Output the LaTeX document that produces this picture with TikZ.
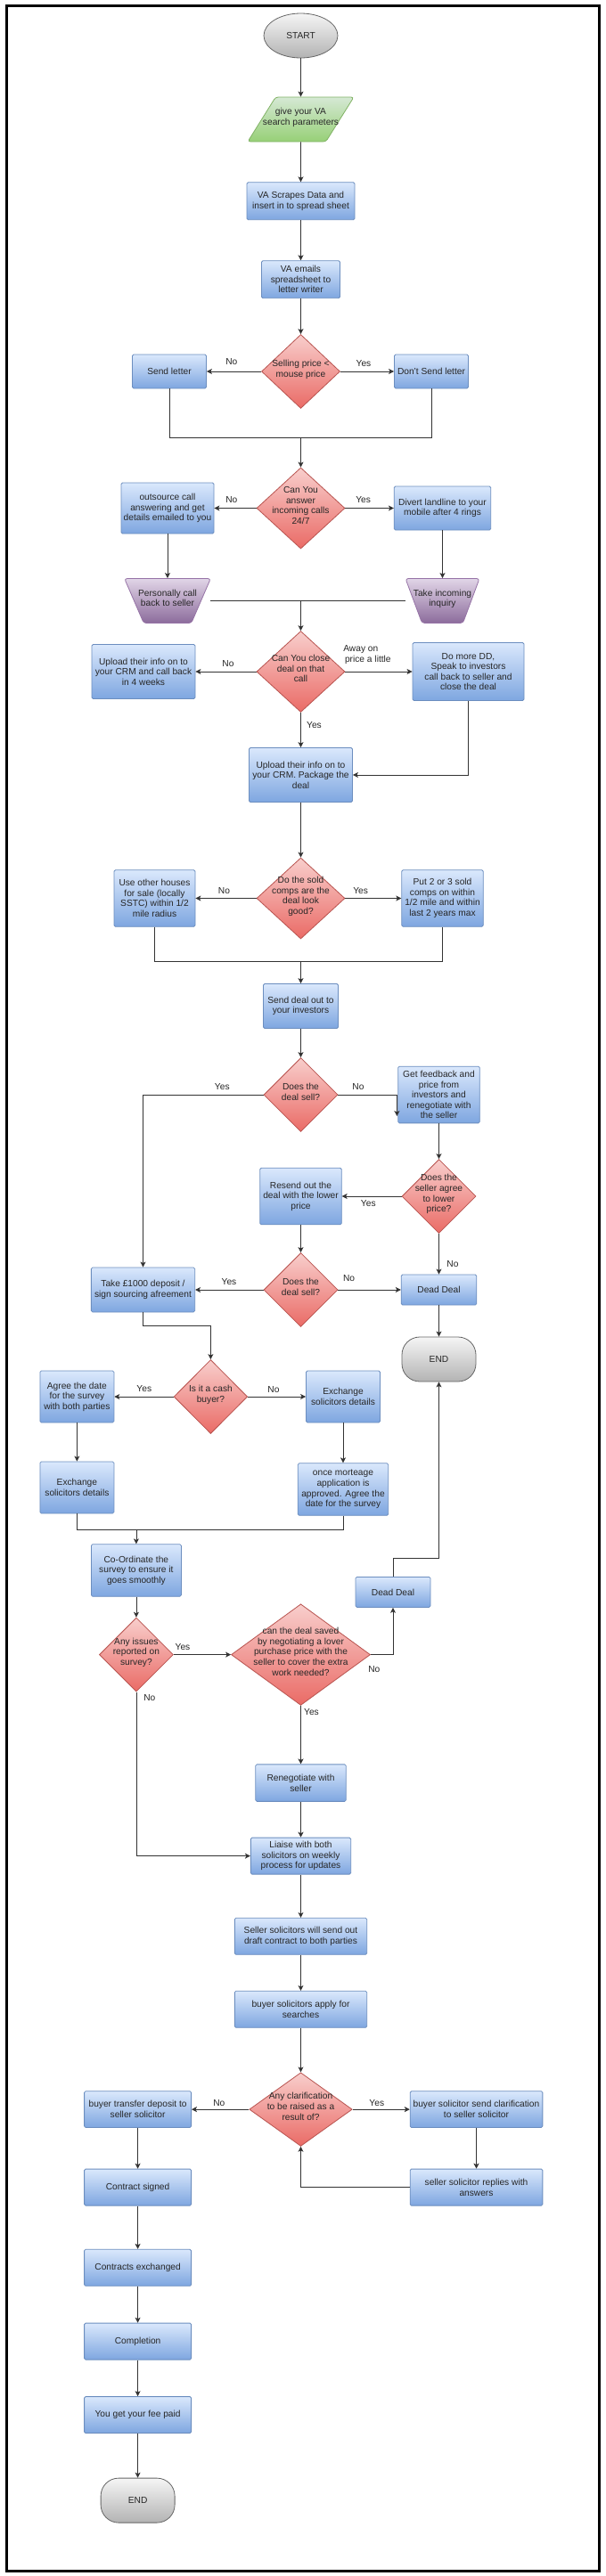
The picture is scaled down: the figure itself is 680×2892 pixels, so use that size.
\documentclass[tikz,border=0pt]{standalone}
\usepackage{fontspec}
\setmainfont{Liberation Sans}
\usetikzlibrary{shapes.geometric,arrows.meta,positioning}
\definecolor{blue_top}{HTML}{DAE8FC}
\definecolor{blue_low}{HTML}{7EA6E0}
\definecolor{blue_line}{HTML}{6C8EBF}
\definecolor{red_top}{HTML}{F8CECC}
\definecolor{red_low}{HTML}{EA6B66}
\definecolor{red_line}{HTML}{B85450}
\definecolor{green_top}{HTML}{D5E8D4}
\definecolor{green_low}{HTML}{97D077}
\definecolor{green_line}{HTML}{82B366}
\definecolor{violet_top}{HTML}{E1D5E7}
\definecolor{violet_low}{HTML}{8C6C9C}
\definecolor{violet_line}{HTML}{9673A6}
\definecolor{grey_top}{HTML}{F5F5F5}
\definecolor{grey_low}{HTML}{B3B3B3}
\definecolor{grey_line}{HTML}{666666}
\newcommand{\slimtext}[1]{\rule{0pt}{1pt}\makebox[1pt]{\smash{\begin{tabular}{@{}c@{}}#1\end{tabular}}}}
\tikzstyle{flow_style}=[
	x=1pt,y=-1pt,line width=0.8pt,draw=black!80,
	>={Stealth[length=6pt,width=6pt,inset=1.5pt]},
	every node/.style={font=\fontsize{10.2}{11.6}\selectfont,text=black!85},
	process/.style 2 args={rectangle,draw=blue_line,rounded corners=1.5pt,top color=blue_top,bottom color=blue_low,align=center,inner sep=0pt,minimum width=##1pt,minimum height=##2pt},
	decision/.style 2 args={diamond,draw=red_line,top color=red_top,bottom color=red_low,inner sep=0pt,minimum width=##1pt,minimum height=##2pt},
	terminal/.style={rectangle,rounded corners=20pt,draw=grey_line,top color=grey_top,bottom color=grey_low,minimum width=83pt,minimum height=50pt},
	inputbox/.style={trapezium,trapezium stretches=true,trapezium left angle=61,trapezium right angle=119,rounded corners=3pt,draw=green_line,top color=green_top,bottom color=green_low,inner sep=0pt,minimum width=119pt,minimum height=50pt},
	manual/.style={trapezium,trapezium stretches=true,shape border rotate=180,trapezium left angle=68,trapezium right angle=68,rounded corners=3pt,draw=violet_line,top color=violet_top,bottom color=violet_low,inner sep=0pt,minimum height=50pt},
	tag/.style={inner sep=0pt,align=left}
]
\begin{document}
\begin{tikzpicture}[flow_style]
	\useasboundingbox (0,0) rectangle (680,2892);
	\fill[white] (0,0) rectangle (680,2892);
	\draw[black,line width=2.8pt] (7.4,6.8) rectangle (672.8,2886.6);
	
	% main column
	\node[ellipse,draw=grey_line,top color=grey_top,bottom color=grey_low,minimum width=83pt,minimum height=50pt,inner sep=0pt] (start) at (337.5,40) {START};
	\node[inputbox] (input)[node distance=94pt,below of=start] {\slimtext{give your VA\\search parameters}};
	\node[process={121}{42}] (scrape)[node distance=91.7pt,below of=input] {VA Scrapes Data and\\insert in to spread sheet};
	\node[process={88}{42}] (emails)[node distance=88pt,below of=scrape] {VA emails\\spreadsheet to\\letter writer};
	\node[decision={88}{83}] (price)[node distance=103.3pt,below of=emails] {\slimtext{Selling price <\\mouse price}};
	\node[process={83}{38}] (send_letter)[node distance=147.5pt,left of=price] {Send letter};
	\node[process={83}{38}] (no_send)[node distance=146.5pt,right of=price] {Don't Send letter};
	
	\node[decision={99}{91}] (answer)[node distance=153.5pt,below of=price] {\slimtext{Can You\\answer\\incoming calls\\24/7}};
	\node[process={104}{57}] (outsource)[node distance=149.5pt,left of=answer] {outsource call\\answering and get\\details emailed to you};
	\node[process={108.4}{49}] (divert)[node distance=159pt,right of=answer] {Divert landline to your\\mobile after 4 rings};
	\node[manual,minimum width=96.7pt] (call_back)[node distance=104pt,below of=outsource] {\slimtext{Personally call\\back to seller}};
	\node[manual,minimum width=83pt] (inquiry)[node distance=104pt,below of=divert] {\slimtext{Take incoming\\inquiry}};
	
	\node[decision={99}{91}] (close)[node distance=183.5pt,below of=answer] {\slimtext{Can You close\\deal on that\\call}};
	\node[process={116}{61}] (upload_later)[node distance=176.5pt,left of=close] {Upload their info on to\\your CRM and call back\\in 4 weeks};
	\node[process={125}{65}] (more_dd)[node distance=188pt,right of=close] {Do more DD,\\Speak to investors\\call back to seller and\\close the deal};
	\node[process={116}{61}] (package)[node distance=116pt,below of=close] {Upload their info on to\\your CRM. Package the\\deal};
	
	\node[decision={99}{91}] (comps)[node distance=138.5pt,below of=package] {\slimtext{Do the sold\\comps are the\\deal look\\good?}};
	\node[process={91}{63.5}] (other_houses)[node distance=164pt,left of=comps] {Use other houses\\for sale (locally\\SSTC) within 1/2\\mile radius};
	\node[process={91.5}{63.5}] (sold_comps)[node distance=159pt,right of=comps] {Put 2 or 3 sold\\comps on within\\1/2 mile and within\\last 2 years max};
	
	\node[process={84}{50}] (send_deal)[node distance=121pt,below of=comps] {Send deal out to\\your investors};
	\node[decision={83}{83}] (deal_sell)[node distance=99.5pt,below of=send_deal] {\slimtext{Does the\\deal sell?}};
	\node[process={91.5}{63.7}] (feedback)[node distance=155pt,right of=deal_sell] {Get feedback and\\price from\\investors and\\renegotiate with\\the seller};
	\node[decision={83}{83}] (agree_lower)[node distance=114pt,below of=feedback] {\slimtext{Does the\\seller agree\\to lower\\price?}};
	\node[process={91.5}{63.6}] (resend)[node distance=155pt,left of=agree_lower] {Resend out the\\deal with the lower\\price};
	\node[decision={83}{83}] (sell_again)[node distance=105pt,below of=resend] {\slimtext{Does the\\deal sell?}};
	\node[process={116.3}{50}] (deposit)[node distance=177pt,left of=sell_again] {Take \textsterling1000 deposit /\\sign sourcing afreement};
	\node[process={84.6}{34}] (dead_a)[node distance=155pt,right of=sell_again] {Dead Deal};
	\node[terminal] (end_a)[node distance=78pt,below of=dead_a] {END};
	
	% cash or mortgage
	\node[decision={82.5}{83}] (cash) at (236.4,1568) {\slimtext{Is it a cash\\buyer?}};
	\node[process={83}{58}] (agree_date)[node distance=150pt,left of=cash] {Agree the date\\for the survey\\with both parties};
	\node[process={83}{58}] (swap_a)[node distance=148.6pt,right of=cash] {Exchange\\solicitors details};
	\node[process={83}{58}] (swap_b)[node distance=102pt,below of=agree_date] {Exchange\\solicitors details};
	\node[process={101.4}{58.5}] (mortgage)[node distance=104pt,below of=swap_a] {once morteage\\application is\\approved. Agree the\\date for the survey};
	
	\node[process={101}{58.5}] (survey) at (152.9,1763) {Co-Ordinate the\\survey to ensure it\\goes smoothly};
	\node[decision={83}{83}] (issues)[node distance=94.6pt,below of=survey] {\slimtext{Any issues\\reported on\\survey?}};
	\node[decision={156}{113.6}] (saved)[node distance=184.6pt,right of=issues] {\slimtext{can the deal saved\\by negotiating a lover\\purchase price with the\\seller to cover the extra\\work needed?}};
	\node[process={84}{34}] (dead_b) at (441,1787.4) {Dead Deal};
	\node[process={101.4}{41.5}] (renegotiate)[node distance=144pt,below of=saved] {Renegotiate with\\seller};
	\node[process={112.3}{41}] (liaise)[node distance=82pt,below of=renegotiate] {Liaise with both\\solicitors on weekly\\process for updates};
	\node[process={148.3}{41}] (draft)[node distance=90.2pt,below of=liaise] {Seller solicitors will send out\\draft contract to both parties};
	\node[process={148.3}{41}] (searches)[node distance=82pt,below of=draft] {buyer solicitors apply for\\searches};
	
	\node[decision={115.4}{82.6}] (clarify)[node distance=112.3pt,below of=searches] {\slimtext{Any clarification\\to be raised as a\\result of?}};
	\node[process={120}{40.7}] (transfer)[node distance=182.9pt,left of=clarify] {buyer transfer deposit to\\seller solicitor};
	\node[process={148.7}{40.7}] (ask)[node distance=197pt,right of=clarify] {buyer solicitor send clarification\\to seller solicitor};
	\node[process={148.7}{41}] (replies)[node distance=87.5pt,below of=ask] {seller solicitor replies with\\answers};
	\node[process={120}{41}] (signed)[node distance=87.5pt,below of=transfer] {Contract signed};
	\node[process={120}{41}] (exchanged)[node distance=90.2pt,below of=signed] {Contracts exchanged};
	\node[process={120}{41}] (completion)[node distance=82.8pt,below of=exchanged] {Completion};
	\node[process={120}{41}] (fee)[node distance=82.5pt,below of=completion] {You get your fee paid};
	\node[terminal] (end_b)[node distance=96pt,below of=fee] {END};
	
	% joins and bends
	\coordinate (join_a) at (337.5,491.4);
	\coordinate (join_b) at (337.5,674);
	\coordinate (join_c) at (337.5,1079.3);
	\coordinate (join_d) at (152.9,1717.5);
	\coordinate (hook_a) at (445.4,1229);
	\coordinate (hook_b) at (445.4,1253);
	\coordinate (turn_a) at (200,1488.6);
	\coordinate (turn_b) at (470,1749.6);
	
	\path[->] (start) edge (input)
	(input) edge (scrape)
	(scrape) edge (emails)
	(emails) edge (price)
	(price) edge (send_letter)
	(price) edge (no_send)
	(join_a) edge (answer)
	(answer) edge (outsource)
	(answer) edge (divert)
	(outsource) edge (call_back)
	(divert) edge (inquiry)
	(join_b) edge (close)
	(close) edge (upload_later)
	(close) edge (more_dd)
	(close) edge (package)
	(package) edge (comps)
	(comps) edge (other_houses)
	(comps) edge (sold_comps)
	(join_c) edge (send_deal)
	(send_deal) edge (deal_sell)
	(feedback) edge (agree_lower)
	(agree_lower) edge (resend)
	(agree_lower) edge (dead_a)
	(resend) edge (sell_again)
	(sell_again) edge (deposit)
	(sell_again) edge (dead_a)
	(dead_a) edge (end_a);
	
	\path[->] (cash) edge (agree_date)
	(cash) edge (swap_a)
	(agree_date) edge (swap_b)
	(swap_a) edge (mortgage)
	(join_d) edge (survey)
	(survey) edge (issues)
	(issues) edge (saved)
	(saved) edge (renegotiate)
	(renegotiate) edge (liaise)
	(liaise) edge (draft)
	(draft) edge (searches)
	(searches) edge (clarify)
	(clarify) edge (transfer)
	(clarify) edge (ask)
	(ask) edge (replies)
	(transfer) edge (signed)
	(signed) edge (exchanged)
	(exchanged) edge (completion)
	(completion) edge (fee)
	(fee) edge (end_b);
	
	\draw (send_letter.south) |- (join_a) -| (no_send.south);
	\draw ([xshift=48.3pt]call_back.center) -- ([xshift=-41.5pt]inquiry.center);
	\draw (other_houses.south) |- (join_c) -| (sold_comps.south);
	\draw (swap_b.south) |- (join_d) -| (mortgage.south);
	\draw[->] (more_dd.south) |- (package.east);
	\draw[->] (deal_sell.west) -| (deposit.north);
	\draw[->] (deal_sell.east) -- (hook_a) -- (hook_b);
	\draw[->] (deposit.south) |- (turn_a) -| (cash.north);
	\draw[->] (saved.east) -| (dead_b.south);
	\draw[->] (dead_b.north) |- (turn_b) -| (end_a.south);
	\draw[->] (issues.south) |- (liaise.west);
	\draw[->] (replies.west) -| (clarify.south);
	
	% labels
	\node[tag] (no_a) at (259.8,405.7) {No};
	\node[tag] (yes_a) at (408,408.2) {Yes};
	\node[tag] (no_b) at (259.8,561.4) {No};
	\node[tag] (yes_b) at (407.6,561.4) {Yes};
	\node[tag] (no_c) at (256,745) {No};
	\node[tag] (away) at (412,735) {Away on\\\,price a little};
	\node[tag] (yes_c) at (352.5,814) {Yes};
	\node[tag] (no_d) at (251.5,999.6) {No};
	\node[tag] (yes_d) at (404.6,999.6) {Yes};
	\node[tag] (yes_e) at (249.3,1220) {Yes};
	\node[tag] (no_e) at (402,1220) {No};
	\node[tag] (yes_f) at (413.3,1351) {Yes};
	\node[tag] (no_f) at (508,1419) {No};
	\node[tag] (yes_g) at (257,1439) {Yes};
	\node[tag] (no_g) at (391.6,1435.4) {No};
	\node[tag] (yes_h) at (161.8,1559) {Yes};
	\node[tag] (no_h) at (307,1560.4) {No};
	\node[tag] (yes_i) at (205,1848.6) {Yes};
	\node[tag] (no_i) at (419.8,1873.6) {No};
	\node[tag] (no_j) at (167.8,1905.7) {No};
	\node[tag] (yes_j) at (349.5,1921.8) {Yes};
	\node[tag] (no_k) at (245.9,2361) {No};
	\node[tag] (yes_k) at (422.8,2361) {Yes};
\end{tikzpicture}
\end{document}
